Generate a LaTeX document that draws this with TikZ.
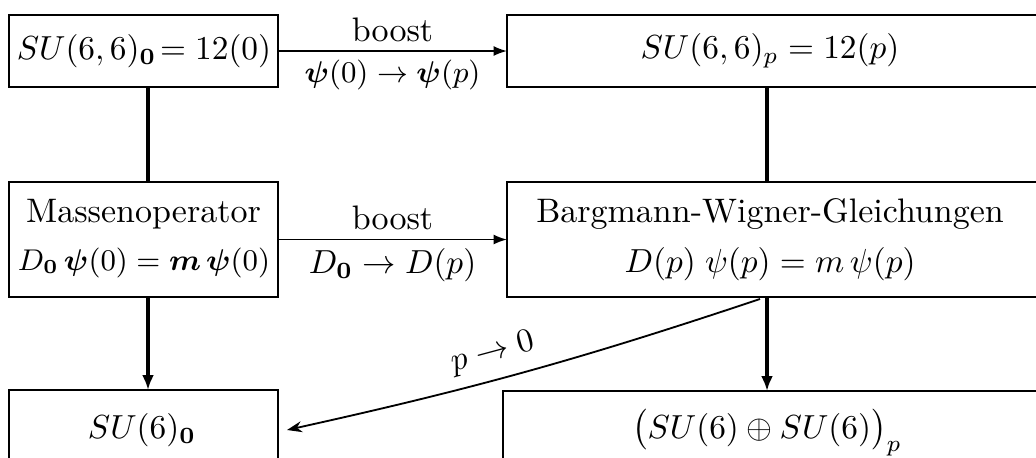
\documentclass[tikz,border=0pt]{standalone}
\usepackage{amsmath,amssymb,bm}
\usetikzlibrary{arrows.meta,calc}
\begin{document}
\begin{tikzpicture}[x=0.3pt,y=-0.3pt,
  font=\fontsize{10.2}{12}\selectfont,
  frame/.style={draw, line width=0.5pt, inner sep=0pt, outer sep=0pt, anchor=north west},
  txt/.style={inner sep=0pt, outer sep=0pt},
  vline/.style={line width=1.0pt},
  varrow/.style={line width=1.0pt, -{Latex[length=4.5pt,width=3.6pt]}},
  harrow/.style={line width=0.55pt, -{Latex[length=4pt,width=3pt]}},
  darrow/.style={line width=0.55pt, -{Stealth[length=4.5pt,width=3.3pt]}},
  lab/.style={inner sep=2.5pt}]
\useasboundingbox (0,0) rectangle (1036,457);
\clip (0,0) rectangle (1036,457);
% frames
\node[frame, minimum width=80.7pt, minimum height=21.6pt] (A) at (9,15) {};
\node[frame, minimum width=210pt, minimum height=21.6pt] (B) at (507,15) {};
\node[frame, minimum width=80.7pt, minimum height=34.5pt] (C) at (9,182) {};
\node[frame, minimum width=210pt, minimum height=34.5pt] (D) at (507,182) {};
\node[frame, minimum width=80.7pt, minimum height=45pt] (E) at (9,390) {};
\node[frame, minimum width=210pt, minimum height=45pt] (F) at (503,391) {};
% texts
\node[txt, font=\fontsize{9.7}{12}\selectfont] (tA) at (144,51) {$SU(6,6)_{\mathbf{0}}\!= 12(0)$};
\node[txt, font=\fontsize{9.9}{12}\selectfont] (tB) at (770,51) {$SU(6,6)_p = 12(p)$};
\node[txt, anchor=base] (tC1) at (143.5,222) {Massenoperator};
\node[txt, anchor=base, font=\fontsize{9}{12}\selectfont] (tC2) at (144,270) {$D_{\mathbf{0}}\,\bm{\psi}(0) = \bm{m}\,\bm{\psi}(0)$};
\node[txt, anchor=base] (tD1) at (770,222) {Bargmann-Wigner-Gleichungen};
\node[txt, anchor=base] (tD2) at (770,272) {$D(p)\;\psi(p) = m\,\psi(p)$};
\node[txt, anchor=base] (tE) at (142,438) {$SU(6)_{\mathbf{0}}$};
\node[txt, anchor=base] (tF) at (767,438) {$\bigl(SU(6)\oplus SU(6)\bigr)_p$};
% connectors
\coordinate (lx) at (148,0);
\coordinate (rx) at (767,0);
\draw[vline] (A.south -| lx) -- (C.north -| lx);
\draw[vline] (B.south -| rx) -- (D.north -| rx);
\draw[varrow] (C.south -| lx) -- (E.north -| lx);
\draw[varrow] (D.south -| rx) -- (F.north -| rx);
\draw[harrow] (A.east) -- (A.east -| B.west)
  node[midway, above, lab] {boost}
  node[midway, below, lab, font=\fontsize{9.4}{12}\selectfont] {$\bm{\psi}(0)\to\bm{\psi}(p)$};
\draw[harrow] (C.east) -- (C.east -| D.west)
  node[midway, above, lab] {boost}
  node[midway, below, lab] {$D_{\mathbf{0}}\to D(p)$};
\coordinate (dstart) at ($(D.south -| rx)+(-7,2)$);
\coordinate (dend) at ($(E.north east)+(9,40)$);
\draw[darrow] (dstart) to[bend left=3]
  node[pos=0.56, above, sloped, inner sep=3.5pt] {$p\to 0$} (dend);
\end{tikzpicture}
\end{document}
